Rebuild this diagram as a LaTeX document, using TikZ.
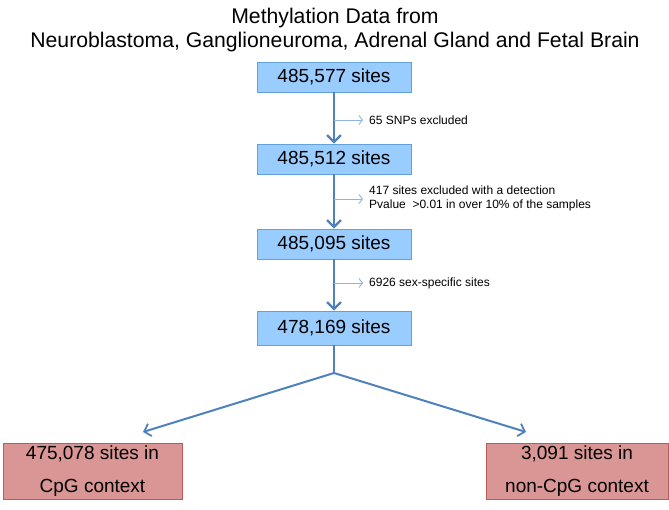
\documentclass[tikz,border=0pt]{standalone}
\usepackage{fontspec}
\setmainfont{Liberation Sans}
\usetikzlibrary{arrows.meta}
\definecolor{bluefill}{RGB}{153,204,255}
\definecolor{blueedge}{RGB}{100,160,220}
\definecolor{redfill}{RGB}{217,150,148}
\definecolor{rededge}{RGB}{190,90,88}
\definecolor{mainarrow}{RGB}{79,129,189}
\definecolor{sidearrow}{RGB}{141,179,226}
\tikzset{
  sitebox/.style={draw=blueedge, fill=bluefill, line width=0.8pt, minimum width=154pt, minimum height=30pt, inner sep=0pt, font=\fontsize{19}{22}\selectfont},
  resultbox/.style={draw=rededge, fill=redfill, line width=0.8pt, minimum height=56pt, inner sep=0pt, align=center, font=\fontsize{19}{33}\selectfont},
  mainflow/.style={draw=mainarrow, line width=2.4pt, -{Straight Barb[length=7pt,width=14pt,line width=2.2pt]}},
  mainline/.style={draw=mainarrow, line width=2.4pt},
  branch/.style={draw=mainarrow, line width=2pt, -{Straight Barb[length=6pt,width=13pt,line width=1.8pt]}},
  sideflow/.style={draw=sidearrow, line width=0.9pt, -{Straight Barb[length=3.5pt,width=9pt,line width=0.9pt]}},
  sidenote/.style={anchor=west, inner sep=0pt, align=left, font=\fontsize{12}{14}\selectfont},
}
\begin{document}
\begin{tikzpicture}[x=1pt,y=-1pt]
\useasboundingbox (0,0) rectangle (669,510);
\node[align=center, font=\fontsize{21.2}{23.5}\selectfont] (title) at (335,30) {Methylation Data from\\Neuroblastoma, Ganglioneuroma, Adrenal Gland and Fetal Brain};
\node[sitebox] (b1) at (334,77) {485,577 sites};
\node[sitebox] (b2) at (334,159) {485,512 sites};
\node[sitebox] (b3) at (334,244) {485,095 sites};
\node[sitebox, minimum height=34pt] (b4) at (334,328) {478,169 sites};
\node[resultbox, minimum width=179pt] (r1) at (92.5,471) {475,078 sites in\\CpG context};
\node[resultbox, minimum width=182pt] (r2) at (577,471) {3,091 sites in\\non-CpG context};
\draw[mainflow] (b1) -- (b2);
\draw[mainflow] (b2) -- (b3);
\draw[mainflow] (b3) -- (b4);
\coordinate (s1) at (334,120);
\coordinate (e1) at (363,120);
\coordinate (s2) at (334,199);
\coordinate (e2) at (363,199);
\coordinate (s3) at (334,283);
\coordinate (e3) at (363,283);
\draw[sideflow] (s1) -- (e1);
\draw[sideflow] (s2) -- (e2);
\draw[sideflow] (s3) -- (e3);
\node[sidenote] (n1) at (369,120) {65 SNPs excluded};
\node[sidenote] (n2) at (369,198) {417 sites excluded with a detection\\Pvalue \ >0.01 in over 10\% of the samples};
\node[sidenote] (n3) at (369,283) {6926 sex-specific sites};
\coordinate (j) at (334,373);
\coordinate (t1) at (143,432);
\coordinate (t2) at (526,432);
\draw[mainline] (b4.south) -- (j);
\draw[branch] (j) -- (t1);
\draw[branch] (j) -- (t2);
\end{tikzpicture}
\end{document}
